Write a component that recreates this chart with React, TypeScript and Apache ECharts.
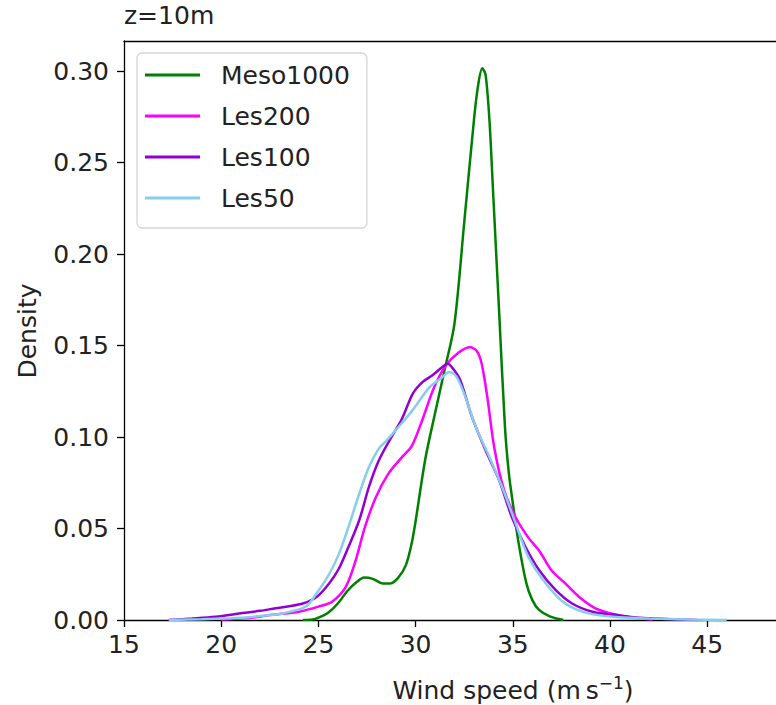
import React, { useEffect, useRef } from "react";
import * as echarts from "echarts";

const xTicks = [15, 20, 25, 30, 35, 40, 45];
const yTicks = [0, 0.05, 0.1, 0.15, 0.2, 0.25, 0.3];

const seriesNames = ["Meso1000", "Les200", "Les100", "Les50"];
const seriesColors = ["#008000", "#ff00ff", "#9400d3", "#87ceeb"];

const mesoX = [24.2, 24.7, 25.0, 25.5, 26.0, 26.5, 27.0, 27.35, 27.8, 28.3, 28.7, 29.1, 29.5, 29.8, 30.0, 30.5, 31.0, 31.5, 32.0, 32.5, 33.0, 33.2, 33.43, 33.6, 33.8, 34.0, 34.3, 34.6, 34.8, 35.0, 35.3, 35.7, 36.0, 36.35, 36.9, 37.6];
const mesoY = [0, 0.0003, 0.0013, 0.004, 0.009, 0.016, 0.021, 0.0232, 0.0225, 0.02, 0.02, 0.023, 0.03, 0.042, 0.054, 0.088, 0.113, 0.137, 0.162, 0.217, 0.273, 0.291, 0.3015, 0.298, 0.273, 0.231, 0.168, 0.105, 0.08, 0.064, 0.042, 0.02, 0.011, 0.0055, 0.002, 0];

const les200X = [20.0, 21.0, 22.0, 22.5, 23.2, 24.0, 25.0, 25.7, 26.4, 26.9, 27.4, 27.95, 28.6, 29.3, 29.8, 30.3, 30.95, 31.55, 32.2, 32.8, 33.15, 33.4, 33.7, 34.05, 34.55, 35.15, 35.8, 36.35, 37.0, 37.7, 38.4, 39.25, 40.4, 41.2, 42.2];
const les200Y = [0.0003, 0.0008, 0.0018, 0.0027, 0.0035, 0.0045, 0.0073, 0.01, 0.018, 0.032, 0.051, 0.067, 0.08, 0.089, 0.095, 0.108, 0.127, 0.139, 0.146, 0.149, 0.147, 0.14, 0.121, 0.094, 0.071, 0.056, 0.045, 0.038, 0.027, 0.02, 0.0127, 0.0064, 0.0027, 0.0012, 0.0003];

const les100X = [17.3, 18.5, 19.7, 21.1, 22.0, 22.8, 23.5, 24.2, 24.9, 25.55, 26.05, 26.55, 27.1, 27.6, 28.1, 28.65, 29.3, 29.85, 30.35, 30.85, 31.35, 31.65, 31.95, 32.3, 32.9, 33.6, 34.3, 34.95, 35.65, 36.35, 37.2, 38.05, 39.1, 40.3, 41.5, 43.0, 44.5];
const les100Y = [0, 0.0008, 0.0018, 0.0038, 0.005, 0.0064, 0.0075, 0.009, 0.0125, 0.02, 0.028, 0.04, 0.0545, 0.0727, 0.087, 0.098, 0.11, 0.1236, 0.13, 0.1336, 0.138, 0.14, 0.137, 0.131, 0.111, 0.0927, 0.0763, 0.0563, 0.04, 0.0273, 0.0164, 0.009, 0.0045, 0.0027, 0.0012, 0.0005, 0];

const les50X = [17.3, 19.0, 20.5, 21.4, 22.3, 23.15, 24.35, 24.9, 25.55, 26.05, 26.55, 27.1, 27.6, 28.1, 28.5, 29.0, 29.8, 30.7, 31.3, 31.75, 32.1, 32.5, 33.1, 33.8, 34.45, 35.15, 35.8, 36.7, 37.7, 38.9, 40.5, 42.0, 44.0, 46.0];
const les50Y = [0, 0.0004, 0.001, 0.0015, 0.0025, 0.0036, 0.0073, 0.0145, 0.025, 0.036, 0.051, 0.069, 0.0836, 0.0935, 0.098, 0.104, 0.114, 0.127, 0.132, 0.1355, 0.133, 0.1236, 0.1054, 0.089, 0.0727, 0.0527, 0.0345, 0.02, 0.009, 0.0036, 0.0015, 0.0008, 0.0003, 0];

const allX = [mesoX, les200X, les100X, les50X];
const allY = [mesoY, les200Y, les100Y, les50Y];

const FONT = "DejaVu Sans";

export default function App() {
  const ref = useRef<HTMLDivElement>(null);
  useEffect(() => {
    if (!ref.current) return;
    const chart = echarts.init(ref.current, null, { renderer: "svg" });
    const series = seriesNames.map((name, i) => ({
      name,
      type: "line",
      data: allX[i].map((x, j) => [x, allY[i][j]]),
      showSymbol: false,
      smooth: 0.3,
      lineStyle: { color: seriesColors[i], width: 2.5 },
      itemStyle: { color: seriesColors[i] },
      z: 2,
    }));
    chart.setOption({
      animation: false,
      backgroundColor: "#ffffff",
      textStyle: { fontFamily: FONT },
      grid: { left: 124, top: 41, right: 0, bottom: 85, containLabel: false },
      xAxis: [
        {
          type: "value",
          min: 15,
          max: 48.54,
          splitLine: { show: false },
          axisLine: { show: true, onZero: false, lineStyle: { color: "#000", width: 1.3 } },
          axisTick: { show: true, length: 7, customValues: xTicks, lineStyle: { color: "#000", width: 1.3 } },
          axisLabel: { customValues: xTicks, color: "#222", fontSize: 25, fontFamily: FONT, margin: 12 },
        },
        {
          type: "value",
          position: "top",
          min: 15,
          max: 48.54,
          splitLine: { show: false },
          axisLine: { show: true, onZero: false, lineStyle: { color: "#000", width: 1.3 } },
          axisTick: { show: false },
          axisLabel: { show: false },
        },
      ],
      yAxis: {
        type: "value",
        min: 0,
        max: 0.3164,
        splitLine: { show: false },
        axisLine: { show: true, onZero: false, lineStyle: { color: "#000", width: 1.3 } },
        axisTick: { show: true, length: 7, customValues: yTicks, lineStyle: { color: "#000", width: 1.3 } },
        axisLabel: {
          customValues: yTicks,
          formatter: (v: number) => v.toFixed(2),
          color: "#222",
          fontSize: 25,
          fontFamily: FONT,
          margin: 15,
        },
      },
      legend: {
        data: seriesNames,
        orient: "vertical",
        left: 137,
        top: 53,
        icon: "rect",
        itemWidth: 55,
        itemHeight: 3,
        itemGap: 11,
        padding: [7, 17, 15, 8],
        backgroundColor: "rgba(255,255,255,0.8)",
        borderColor: "#d6d6d6",
        borderWidth: 1.3,
        borderRadius: 5,
        textStyle: { fontSize: 25, fontFamily: FONT, color: "#222", lineHeight: 30, padding: [0, 0, 0, 16] },
      },
      graphic: [
        {
          type: "text",
          left: 124,
          top: 3,
          style: { text: "z=10m", font: `25px '${FONT}'`, fill: "#222" },
        },
        {
          type: "text",
          x: 513,
          y: 690,
          style: {
            text: "Wind speed (m\u2009s{sup|\u22121})",
            font: `25px '${FONT}'`,
            fill: "#222",
            align: "center",
            verticalAlign: "middle",
            rich: {
              sup: { fontSize: 17, fontFamily: FONT, fill: "#222", padding: [0, 0, 14, 0] },
            },
          },
        },
        {
          type: "text",
          x: 27,
          y: 331,
          rotation: Math.PI / 2,
          style: {
            text: "Density",
            font: `25px '${FONT}'`,
            fill: "#222",
            align: "center",
            verticalAlign: "middle",
          },
        },
      ],
      series,
    });
    return () => chart.dispose();
  }, []);
  return (
    <div
      ref={ref}
      style={{ position: "absolute", left: 0, top: 0, width: 776, height: 705 }}
    />
  );
}
